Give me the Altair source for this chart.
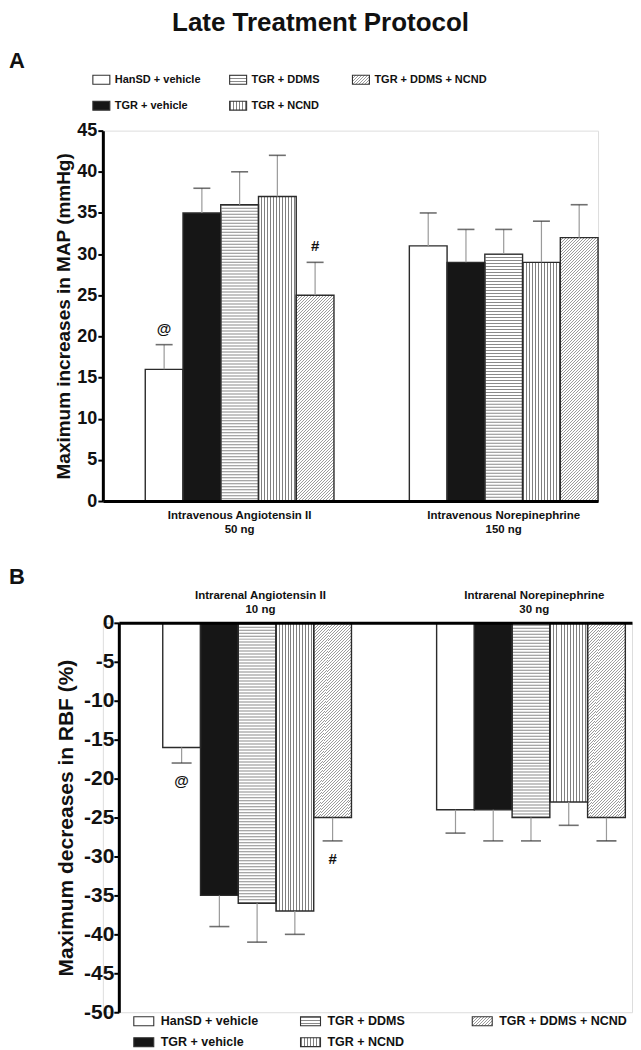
import math
import altair as alt
import pandas as pd

FONT = "Liberation Sans"

# ---------------- data ----------------
series = ["HanSD + vehicle", "TGR + vehicle", "TGR + DDMS", "TGR + NCND", "TGR + DDMS + NCND"]

groups_A = ["Intravenous Angiotensin II", "Intravenous Norepinephrine"]
doses_A = ["50 ng", "150 ng"]
mean_A = [[16, 35, 36, 37, 25], [31, 29, 30, 29, 32]]
err_A = [[3, 3, 4, 5, 4], [4, 4, 3, 5, 4]]
notes_A = [["@", "", "", "", "#"], ["", "", "", "", ""]]
yticks_A = list(range(0, 46, 5))

groups_B = ["Intrarenal Angiotensin II", "Intrarenal Norepinephrine"]
doses_B = ["10 ng", "30 ng"]
mean_B = [[-16, -35, -36, -37, -25], [-24, -24, -25, -23, -25]]
err_B = [[2, 4, 5, 3, 3], [3, 4, 3, 3, 3]]
notes_B = [["@", "", "", "", "#"], ["", "", "", "", ""]]
yticks_B = list(range(0, -51, -5))


def make_df(groups, means, errs, notes, sign):
    rows = []
    for g, ms, es, ns in zip(groups, means, errs, notes):
        for s, v, e, n in zip(series, ms, es, ns):
            rows.append(dict(group=g, series=s, value=v, err=e, cap=v + sign * e, note=n))
    return pd.DataFrame(rows)


dfA = make_df(groups_A, mean_A, err_A, notes_A, 1)
dfB = make_df(groups_B, mean_B, err_B, notes_B, -1)
leg_df = pd.DataFrame({"label": series,
                       "col": [i // 2 for i in range(len(series))],
                       "row": [i % 2 for i in range(len(series))]})

# ---------------- pattern helpers ----------------
HATCH = "#8a8a8a"
VHATCH = "#808080"
DIAG = "#9c9c9c"
BLACK = "#161616"
OUTLINE = "#2b2b2b"
PERIOD = 3  # integer pixel period avoids moire


def stripes(n, x2, y2, frac, color):
    stops = []
    for i in range(n):
        a = round(i / n, 6)
        b = round((i + frac) / n, 6)
        c = round((i + 1) / n, 6)
        stops += [alt.GradientStop(offset=a, color=color),
                  alt.GradientStop(offset=b, color=color),
                  alt.GradientStop(offset=b, color="white"),
                  alt.GradientStop(offset=c, color="white")]
    return alt.LinearGradient(gradient="linear", stops=stops, x1=0, y1=0,
                              x2=round(x2, 6), y2=round(y2, 6))


def vert_fill(w, P=PERIOD, color=VHATCH):
    n = max(1, math.ceil(w / P))
    return stripes(n, n * P / w, 0, 1.0 / P, color)


def horiz_fill(h, P=PERIOD, color=HATCH):
    n = max(1, math.ceil(h / P))
    return stripes(n, 0, n * P / h, 1.0 / P, color)


def diag_fill(w, h, P=PERIOD, color=DIAG):
    """'/' hatching: lines x+y=const every P pixels along x+y."""
    n = max(1, math.ceil((w + h) / P - 1e-9))
    L = n * P
    k = L / (w * w + h * h)
    return stripes(n, w * k, h * k, 1.0 / P, color)


def swatch_fill(idx, w, h):
    if idx == 0:
        return "white"
    if idx == 1:
        return BLACK
    if idx == 2:
        return horiz_fill(h)
    if idx == 3:
        return vert_fill(w)
    return diag_fill(w, h)


# ---------------- panel builder ----------------
def panel(df, groups, doses, W, H, x0, ydom, yticks, ytitle, ysizes, xorient, xlabpad,
          pi, po, cap_size, note_dy, letter, letter_dx, leg_range_x, leg_range_y,
          sw_w, sw_h, leg_font, leg_dx):
    Weff = W - x0
    step = Weff / (len(groups) - pi + 2 * po)
    bw = step * (1 - pi) / len(series)
    ppu = H / (ydom[1] - ydom[0])

    label_expr = " : ".join(
        [f"datum.label == '{g}' ? ['{g}', '{d}']" for g, d in zip(groups[:-1], doses[:-1])]
        + [f"['{groups[-1]}', '{doses[-1]}']"])

    sc = dict(domain=groups, paddingInner=pi, paddingOuter=po, align=1)
    if x0:
        sc["range"] = [x0, W]
    x = alt.X("group:N", scale=alt.Scale(**sc),
              axis=alt.Axis(title=None, orient=xorient, labelAngle=0, ticks=False,
                            domainWidth=3, domainColor="black", labelFont=FONT,
                            labelFontSize=11.5, labelFontWeight="bold", labelColor="#111",
                            labelPadding=xlabpad, labelLineHeight=14.5, labelLimit=400,
                            labelExpr=label_expr, zindex=1))
    xo = alt.XOffset("series:N", scale=alt.Scale(domain=series, paddingInner=0, paddingOuter=0))
    lab_fs, tit_fs, tit_pad, lab_pad = ysizes
    y = alt.Y("value:Q",
              scale=alt.Scale(domain=ydom, nice=False, zero=False),
              axis=alt.Axis(values=yticks, tickCount=len(yticks), title=ytitle, titleFont=FONT,
                            titleFontSize=tit_fs, titleFontWeight="bold", titleColor="#111",
                            titlePadding=tit_pad, labelFont=FONT, labelFontSize=lab_fs,
                            labelFontWeight="bold", labelColor="#111", labelPadding=lab_pad,
                            tickSize=5, tickWidth=2, tickColor="black", domainWidth=3,
                            domainColor="black", grid=False, labelOverlap=False,
                            labelSeparation=0, labelExpr="'' + datum.value", zindex=1,
                            offset=-x0))

    base = alt.Chart(df)
    is_black = alt.datum.series == series[1]

    fills = base.mark_bar(strokeWidth=0).encode(
        x=x, xOffset=xo, y=y,
        fill=alt.condition(is_black, alt.value(BLACK), alt.value("white")))

    horiz = base.transform_filter(alt.datum.series == series[2]).mark_rule(
        strokeWidth=bw - 1.2, strokeDash=[1, PERIOD - 1], color=HATCH, strokeCap="butt").encode(
        x=x, xOffset=xo, y="value:Q", y2=alt.datum(0))

    vert = base.transform_filter(alt.datum.series == series[3]).mark_bar(
        fill=vert_fill(bw), strokeWidth=0).encode(x=x, xOffset=xo, y="value:Q")

    S = 13 * PERIOD
    Su = S / ppu
    seg_rows = []
    for _, r in df[df["series"] == series[4]].iterrows():
        v = r["value"]
        top, bot = (v, 0.0) if v >= 0 else (0.0, v)
        j = 0
        while top - (j + 1) * Su > bot + 1e-9:
            seg_rows.append(dict(group=r["group"], series=r["series"],
                                 y_hi=top - j * Su, y_lo=top - (j + 1) * Su, kind="full"))
            j += 1
        seg_rows.append(dict(group=r["group"], series=r["series"],
                             y_hi=top - j * Su, y_lo=bot, kind=f"rem{r['group']}"))
    seg_df = pd.DataFrame(seg_rows)
    diag_layers = []
    for kind in seg_df["kind"].unique():
        sub = seg_df[seg_df["kind"] == kind]
        h = (sub.iloc[0]["y_hi"] - sub.iloc[0]["y_lo"]) * ppu
        diag_layers.append(
            alt.Chart(seg_df).transform_filter(alt.datum.kind == kind)
            .mark_bar(fill=diag_fill(bw, h), strokeWidth=0)
            .encode(x=x, xOffset=xo, y="y_hi:Q", y2="y_lo:Q"))

    outline = base.mark_bar(fill="white", fillOpacity=0, stroke=OUTLINE, strokeWidth=1.4).encode(
        x=x, xOffset=xo, y="value:Q")

    stems = base.mark_rule(color="#9a9a9a", strokeWidth=1.2).encode(
        x=x, xOffset=xo, y="value:Q", y2="cap:Q")
    caps = base.mark_tick(orient="horizontal", size=cap_size, thickness=1.6, color="#333").encode(
        x=x, xOffset=xo, y="cap:Q")
    notes = base.transform_filter(alt.datum.note != "").mark_text(
        font=FONT, fontSize=15, fontWeight="bold", color="#111", baseline="middle",
        dy=note_dy).encode(x=x, xOffset=xo, y="cap:Q", text="note:N")
    main = alt.layer(fills, horiz, vert, *diag_layers, outline, stems, caps, notes)

    lx = alt.X("col:Q", scale=alt.Scale(domain=[0, 1, 2], range=leg_range_x, nice=False, zero=False), axis=None)
    ly = alt.Y("row:Q", scale=alt.Scale(domain=[0, 1], range=leg_range_y, nice=False, zero=False), axis=None)
    half = sw_h / sw_w
    shape = f"M-1,-{half:.3f}H1V{half:.3f}H-1Z"
    leg_layers = []
    for i, lab in enumerate(series):
        leg_layers.append(
            alt.Chart(leg_df).transform_filter(alt.datum.label == lab)
            .mark_point(shape=shape, size=sw_w * sw_w, filled=True, opacity=1,
                        fill=swatch_fill(i, sw_w, sw_h), stroke="#333", strokeWidth=1.1)
            .encode(x=lx, y=ly))
    leg_text = alt.Chart(leg_df).mark_text(
        align="left", baseline="middle", dx=leg_dx, font=FONT, fontSize=leg_font,
        fontWeight="bold", color="#111").encode(x=lx, y=ly, text="label:N")
    legend = alt.layer(*leg_layers, leg_text)

    return alt.layer(main, legend).resolve_scale(x="independent", y="independent").properties(
        width=W, height=H,
        title=alt.TitleParams(letter, anchor="start", frame="group", dx=letter_dx, fontSize=22,
                              fontWeight="bold", font=FONT, color="#111", offset=0))


panelA = panel(dfA, groups_A, doses_A, 496, 371, 0, [0, 45], yticks_A,
               "Maximum increases in MAP (mmHg)", (18, 19, 3, 1), "bottom", 8,
               0.2854, 0.0803, 17, -16, "A", -94,
               [-1.5, 135.5, 258.5], [-51, -25], 17, 9, 11, 13.5)

panelB = panel(dfB, groups_B, doses_B, 530, 390, 16, [-50, 0], yticks_B,
               "Maximum decreases in RBF (%)", (21, 21, 7, 0), "top", 22.5,
               0.2866, 0.0802, 20, 18, "B", -94,
               [41, 208, 380], [399, 420], 20, 9, 12.5, 17)

chart = alt.vconcat(panelA, panelB, spacing=30).properties(
    title=alt.TitleParams("Late Treatment Protocol", fontSize=26, fontWeight="bold",
                          font=FONT, color="#111", anchor="middle", offset=14),
    padding=0,
).configure_view(stroke=None).configure(font=FONT).configure_axis(labelOverlap=False)

chart.save("out.html", embed_options={"renderer": "svg", "actions": False})
